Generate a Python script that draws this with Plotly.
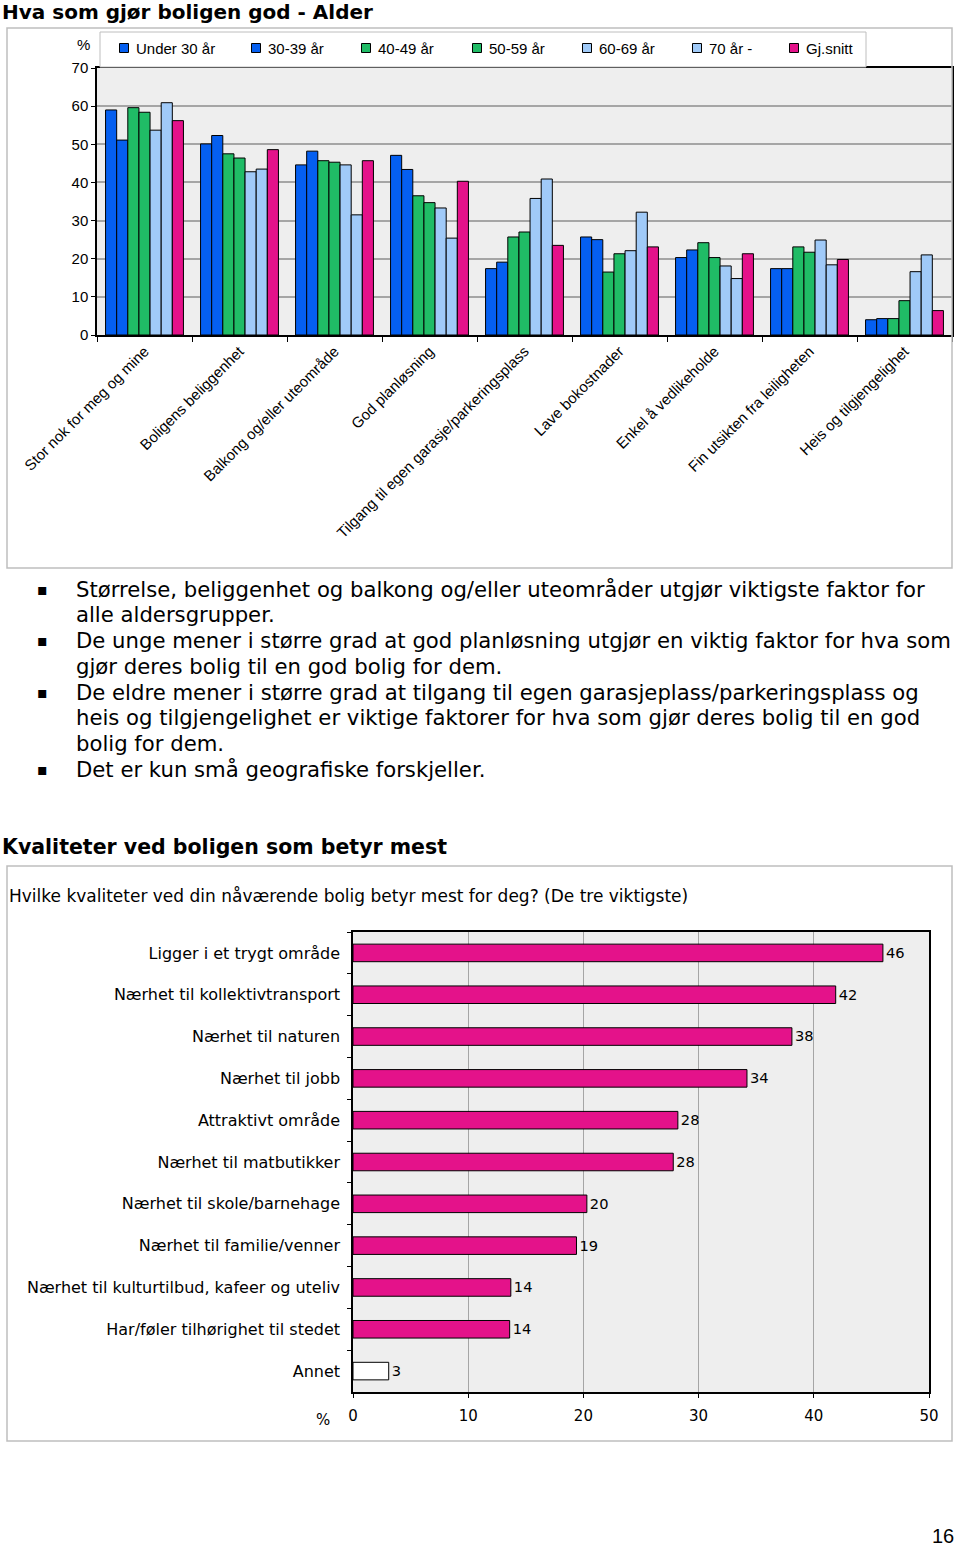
import plotly.graph_objects as go

# ---------------- data: top chart ----------------
categories = [
    "Stor nok for meg og mine",
    "Boligens beliggenhet",
    "Balkong og/eller uteområde",
    "God planløsning",
    "Tilgang til egen garasje/parkeringsplass",
    "Lave bokostnader",
    "Enkel å vedlikeholde",
    "Fin utsikten fra leiligheten",
    "Heis og tilgjengelighet",
]
series_names = ["Under 30 år", "30-39 år", "40-49 år", "50-59 år", "60-69 år", "70 år -", "Gj.snitt"]
under_30 = [59.0, 50.1, 44.6, 47.1, 17.4, 25.7, 20.3, 17.4, 4.0]
age_30_39 = [51.1, 52.3, 48.2, 43.4, 19.1, 25.0, 22.3, 17.4, 4.3]
age_40_49 = [59.6, 47.5, 45.7, 36.5, 25.7, 16.5, 24.2, 23.1, 4.3]
age_50_59 = [58.4, 46.4, 45.3, 34.7, 27.0, 21.3, 20.3, 21.7, 9.0]
age_60_69 = [53.7, 42.8, 44.6, 33.3, 35.8, 22.1, 18.1, 24.9, 16.6]
age_70_plus = [60.9, 43.5, 31.5, 25.4, 40.9, 32.2, 14.8, 18.4, 21.0]
gj_snitt = [56.2, 48.6, 45.7, 40.3, 23.5, 23.1, 21.3, 19.8, 6.4]
y_ticks_top = [0, 10, 20, 30, 40, 50, 60, 70]

# ---------------- data: bottom chart ----------------
qualities = [
    "Ligger i et trygt område",
    "Nærhet til kollektivtransport",
    "Nærhet til naturen",
    "Nærhet til jobb",
    "Attraktivt område",
    "Nærhet til matbutikker",
    "Nærhet til skole/barnehage",
    "Nærhet til familie/venner",
    "Nærhet til kulturtilbud, kafeer og uteliv",
    "Har/føler tilhørighet til stedet",
    "Annet",
]
quality_values = [46.0, 41.9, 38.1, 34.2, 28.2, 27.8, 20.3, 19.4, 13.7, 13.6, 3.1]
x_ticks_bottom = [0, 10, 20, 30, 40, 50]

bullets = [
    ["Størrelse, beliggenhet og balkong og/eller uteområder utgjør viktigste faktor for",
     "alle aldersgrupper."],
    ["De unge mener i større grad at god planløsning utgjør en viktig faktor for hva som",
     "gjør deres bolig til en god bolig for dem."],
    ["De eldre mener i større grad at tilgang til egen garasjeplass/parkeringsplass og",
     "heis og tilgjengelighet er viktige faktorer for hva som gjør deres bolig til en god",
     "bolig for dem."],
    ["Det er kun små geografiske forskjeller."],
]

# ---------------- styling ----------------
W, H = 960, 1550
BLUE = "rgb(5,95,240)"
GREEN = "rgb(32,188,102)"
LIGHTBLUE = "rgb(160,202,248)"
MAGENTA = "rgb(228,18,138)"
colors = [BLUE, BLUE, GREEN, GREEN, LIGHTBLUE, LIGHTBLUE, MAGENTA]
ARIAL = "Liberation Sans, Arial, sans-serif"
WIDE = "DejaVu Sans, sans-serif"
GRID = "rgb(165,165,165)"
FRAME = "rgb(190,190,190)"
# legend layout (pixel positions of the legend swatches in the page)
legend_swatch_x = [124, 256, 366, 477, 587, 697, 794]
legend_y = 48


def px(x):
    return x / W


def py(y):
    return 1 - y / H


fig = go.Figure()

all_series = [under_30, age_30_39, age_40_49, age_50_59, age_60_69, age_70_plus, gj_snitt]
for name, vals, col in zip(series_names, all_series, colors):
    fig.add_trace(go.Bar(
        x=categories, y=vals, name=name,
        marker=dict(color=col, line=dict(color="black", width=1)),
        xaxis="x", yaxis="y", showlegend=False,
    ))

bar_colors = [MAGENTA] * (len(qualities) - 1) + ["white"]
fig.add_trace(go.Bar(
    x=quality_values, y=qualities, orientation="h",
    marker=dict(color=bar_colors, line=dict(color="black", width=1)),
    text=[f"{round(v)}" for v in quality_values], textposition="outside",
    textfont=dict(family=WIDE, size=15, color="black"),
    cliponaxis=False, width=0.42, showlegend=False,
    xaxis="x2", yaxis="y2",
))

fig.update_layout(
    width=W, height=H,
    margin=dict(l=0, r=0, t=0, b=0, autoexpand=False),
    paper_bgcolor="white",
    plot_bgcolor="rgb(238,238,238)",
    barmode="group", bargap=0.18, bargroupgap=0,
    showlegend=False,
    xaxis=dict(
        domain=[px(97), px(952)], anchor="y", automargin=False,
        tickangle=-45, tickfont=dict(family=ARIAL, size=15, color="black"),
        ticks="outside", tickson="boundaries", ticklen=5, tickcolor="black",
        showline=True, linecolor="black", linewidth=1.5, mirror=True,
        showgrid=False,
    ),
    yaxis=dict(
        domain=[py(335), py(68)], anchor="x", range=[0, 70], automargin=False,
        tickvals=y_ticks_top, tickfont=dict(family=ARIAL, size=15, color="black"),
        ticks="outside", ticklen=4, tickcolor="black",
        showline=True, linecolor="black", linewidth=1.5, mirror=True,
        showgrid=True, gridcolor=GRID, gridwidth=1.5, zeroline=False,
    ),
    xaxis2=dict(
        domain=[px(353), px(929)], anchor="y2", range=[0, 50], automargin=False,
        tickvals=x_ticks_bottom, tickfont=dict(family=WIDE, size=15, color="black"),
        ticks="outside", ticklen=4, tickcolor="black", ticklabelstandoff=5,
        showline=True, linecolor="black", linewidth=1.5, mirror=True,
        showgrid=True, gridcolor=GRID, gridwidth=1, zeroline=False,
    ),
    yaxis2=dict(
        domain=[py(1392), py(932)], anchor="x2", autorange="reversed", automargin=False,
        tickfont=dict(family=WIDE, size=16, color="black"),
        ticks="outside", tickson="boundaries", ticklen=4, tickcolor="black",
        ticklabelstandoff=8,
        showline=True, linecolor="black", linewidth=1.5, mirror=True,
        showgrid=False,
    ),
)

shapes = [
    dict(type="rect", xref="paper", yref="paper", x0=px(7), x1=px(952), y0=py(568), y1=py(28),
         line=dict(color=FRAME, width=1.5)),
    dict(type="rect", xref="paper", yref="paper", x0=px(7), x1=px(952), y0=py(1441), y1=py(866),
         line=dict(color=FRAME, width=1.5)),
    # legend box
    dict(type="rect", xref="paper", yref="paper", x0=px(100), x1=px(866), y0=py(67), y1=py(32),
         line=dict(color=FRAME, width=1), fillcolor="white", layer="above"),
]
for sx, col in zip(legend_swatch_x, colors):
    shapes.append(dict(type="rect", xref="paper", yref="paper",
                       x0=px(sx - 4.5), x1=px(sx + 4.5), y0=py(legend_y + 4.5), y1=py(legend_y - 4.5),
                       line=dict(color="black", width=1), fillcolor=col, layer="above"))
fig.update_layout(shapes=shapes)

ann = []
for sx, name in zip(legend_swatch_x, series_names):
    ann.append(dict(text=name, x=px(sx + 10), y=py(legend_y), xanchor="left", yanchor="middle",
                    font=dict(family=ARIAL, size=15, color="black")))
ann.append(dict(text="<b>Hva som gjør boligen god - Alder</b>", x=px(0), y=py(12), xanchor="left",
                yanchor="middle", font=dict(family=WIDE, size=20, color="black")))
ann.append(dict(text="%", x=px(92), y=py(44), xanchor="right", yanchor="middle",
                font=dict(family=ARIAL, size=15, color="black")))
ann.append(dict(text="<b>Kvaliteter ved boligen som betyr mest</b>", x=px(0), y=py(847), xanchor="left",
                yanchor="middle", font=dict(family=WIDE, size=20.5, color="black")))
ann.append(dict(text="Hvilke kvaliteter ved din nåværende bolig betyr mest for deg? (De tre viktigste)",
                x=px(7), y=py(896), xanchor="left", yanchor="middle",
                font=dict(family=WIDE, size=17, color="black")))
ann.append(dict(text="%", x=px(323), y=py(1420), xanchor="center", yanchor="middle",
                font=dict(family=WIDE, size=15, color="black")))
ann.append(dict(text="16", x=px(956), y=py(1536), xanchor="right", yanchor="middle",
                font=dict(family=ARIAL, size=20, color="black")))

line_y = 589
for b in bullets:
    ann.append(dict(text="▪", x=px(42), y=py(line_y), xanchor="center", yanchor="middle",
                    font=dict(family=WIDE, size=16, color="black")))
    for line in b:
        ann.append(dict(text=line, x=px(74), y=py(line_y), xanchor="left", yanchor="middle",
                        font=dict(family=WIDE, size=21.2, color="black")))
        line_y += 25.8

for a in ann:
    a.update(xref="paper", yref="paper", showarrow=False)
fig.update_layout(annotations=ann)

fig.write_html(
    "out.html",
    config={"displayModeBar": False},
    post_script="document.body.style.margin='0px';document.body.style.overflow='hidden';",
)
